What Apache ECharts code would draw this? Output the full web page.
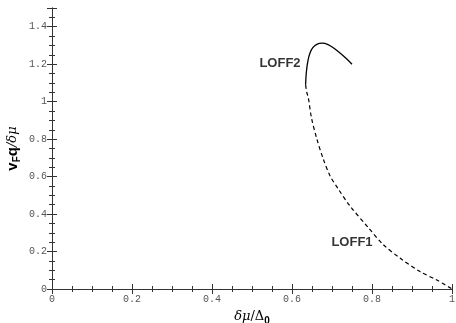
<!DOCTYPE html>
<html>
<head>
<meta charset="utf-8">
<script src="https://cdn.jsdelivr.net/npm/echarts@6/dist/echarts.min.js"></script>
<style>
  html, body { margin: 0; padding: 0; background: #fff; }
  #chart { width: 456px; height: 323px; }
</style>
</head>
<body>
<div id="chart"></div>
<script>
// LOFF2 branch (solid) and LOFF1 branch (dashed)
var loff2X = [0.634, 0.636, 0.640, 0.645, 0.652, 0.662, 0.675, 0.690, 0.705, 0.720, 0.735, 0.750];
var loff2Y = [1.090, 1.160, 1.220, 1.260, 1.288, 1.306, 1.312, 1.305, 1.285, 1.260, 1.232, 1.200];

var loff1X = [0.634, 0.637, 0.641, 0.649, 0.662, 0.678, 0.695, 0.716, 0.745, 0.791, 0.828, 0.870, 0.920, 0.962, 1.000];
var loff1Y = [1.090, 1.050, 1.018, 0.910, 0.802, 0.695, 0.605, 0.533, 0.443, 0.327, 0.237, 0.165, 0.093, 0.048, 0.000];

var labelNames = ['LOFF2', 'LOFF1'];
var labelX = [0.57, 0.75];
var labelY = [1.205, 0.248];

function zip(xs, ys) {
  return xs.map(function (x, i) { return [x, ys[i]]; });
}

var chart = echarts.init(document.getElementById('chart'));

var axisLine = { show: true, lineStyle: { color: '#333', width: 1 } };
var tickFont = { fontFamily: 'Liberation Mono', fontSize: 10, color: '#555' };
var majorTick = { inside: true, length: 5, lineStyle: { color: '#333' } };
var minorTick = { show: true, splitNumber: 4, length: 3, lineStyle: { color: '#333' } };

function fmt(v) {
  return String(Math.round(v * 10) / 10);
}

chart.setOption({
  animation: false,
  grid: { left: 52, right: 4, top: 8, bottom: 34, containLabel: false, outerBoundsMode: 'none' },
  xAxis: [{
    type: 'value', min: 0, max: 1, interval: 0.2,
    axisLine: axisLine, axisTick: majorTick, minorTick: minorTick,
    splitLine: { show: false },
    axisLabel: Object.assign({ margin: 5, formatter: fmt }, tickFont),
    name: '{it|δμ}{n|/Δ}{sub|0}',
    nameLocation: 'middle',
    nameGap: 19,
    nameTextStyle: {
      rich: {
        it: { fontFamily: 'DejaVu Serif', fontStyle: 'italic', fontSize: 13, color: '#000' },
        n: { fontFamily: 'DejaVu Serif', fontSize: 13, color: '#000' },
        sub: { fontFamily: 'Liberation Sans', fontWeight: 'bold', fontSize: 10, color: '#000', padding: [8, 0, 0, 0] }
      }
    }
  }, {
    type: 'value', min: 0, max: 1, interval: 0.2, position: 'top',
    axisLine: axisLine, axisTick: majorTick, minorTick: minorTick,
    splitLine: { show: false },
    axisLabel: { show: false }
  }],
  yAxis: [{
    type: 'value', min: 0, max: 1.5, interval: 0.2,
    axisLine: axisLine, axisTick: majorTick, minorTick: minorTick,
    splitLine: { show: false },
    axisLabel: Object.assign({ margin: 5, showMaxLabel: false, formatter: fmt }, tickFont),
    name: '{b|v}{sub|F}{b|q}{it|/δμ}',
    nameLocation: 'middle',
    nameRotate: 90,
    nameGap: 30,
    nameMoveOverlap: false,
    nameTextStyle: {
      rich: {
        b: { fontFamily: 'Liberation Sans', fontWeight: 'bold', fontSize: 15, color: '#000' },
        sub: { fontFamily: 'Liberation Sans', fontWeight: 'bold', fontSize: 10, color: '#000', padding: [9, 0, 0, 0] },
        it: { fontFamily: 'DejaVu Serif', fontStyle: 'italic', fontSize: 13, color: '#000' }
      }
    }
  }, {
    type: 'value', min: 0, max: 1.5, interval: 0.2, position: 'right',
    axisLine: axisLine, axisTick: majorTick, minorTick: minorTick,
    splitLine: { show: false },
    axisLabel: { show: false }
  }],
  series: [{
    name: 'LOFF2', type: 'line', smooth: 0.35, symbol: 'none',
    data: zip(loff2X, loff2Y),
    lineStyle: { color: '#000', width: 1.3 }
  }, {
    name: 'LOFF1', type: 'line', smooth: 0.3, symbol: 'none',
    data: zip(loff1X, loff1Y),
    lineStyle: { color: '#000', width: 1.2, type: [4, 3] }
  }, {
    name: 'labels', type: 'scatter', symbolSize: 0, silent: true,
    data: labelNames.map(function (n, i) { return { name: n, value: [labelX[i], labelY[i]] }; }),
    label: {
      show: true, position: 'inside', formatter: '{b}',
      fontFamily: 'Liberation Sans', fontWeight: 'bold', fontSize: 13, color: '#000'
    }
  }]
});
</script>
</body>
</html>
